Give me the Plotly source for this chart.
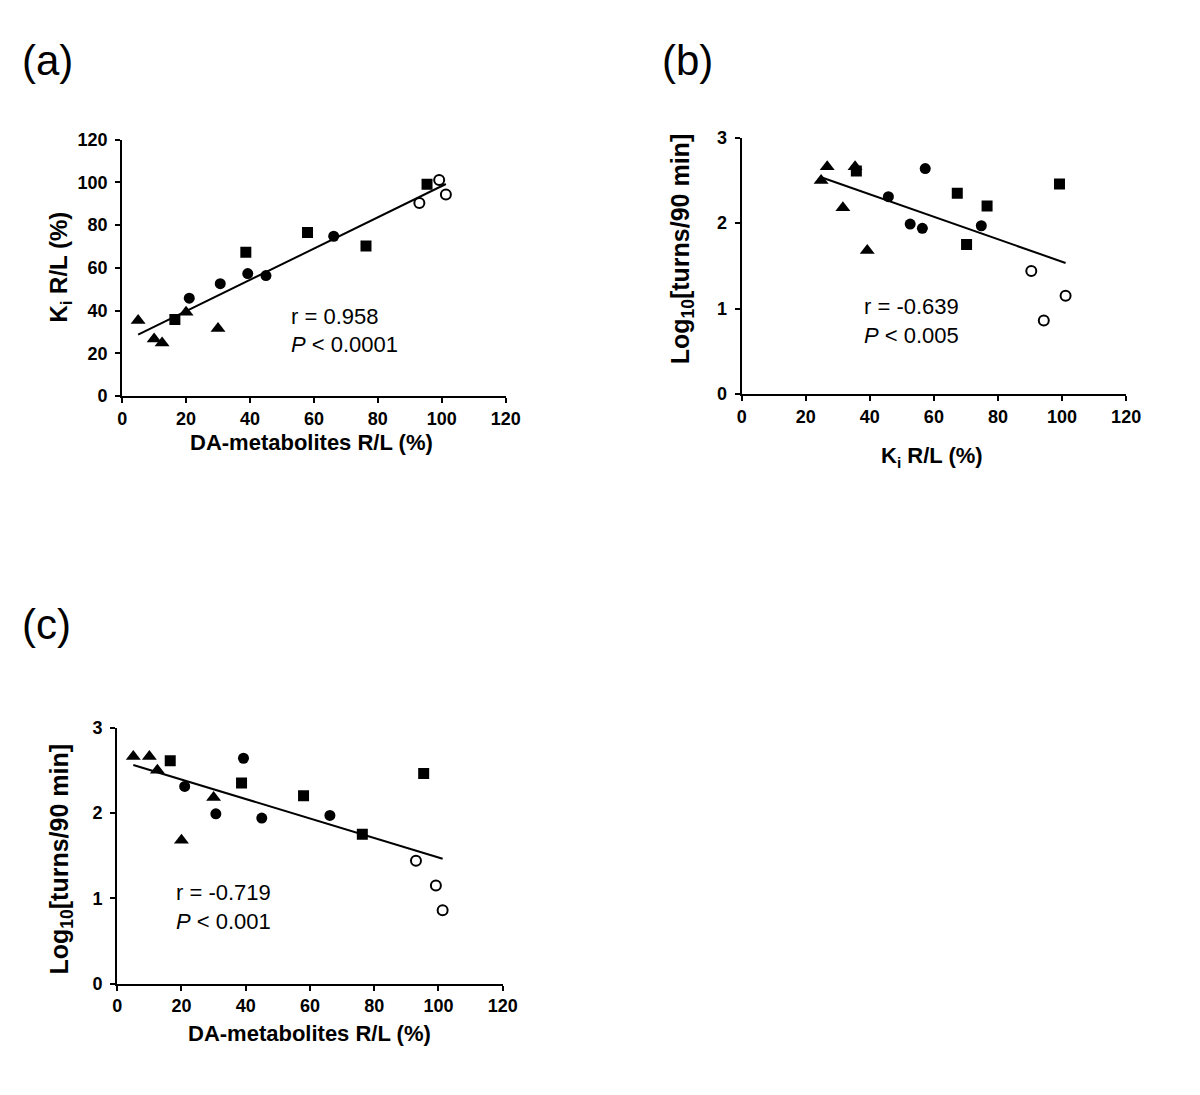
import numpy as np
import plotly.graph_objects as go

# ---- data ----
groups = ["triangle", "square", "circle", "open"]
da_tri = [5.0, 10.0, 12.5, 20.0, 30.0]
da_sq = [16.5, 38.7, 58.0, 76.3, 95.4]
da_ci = [21.0, 30.7, 39.3, 45.0, 66.2]
da_op = [93.0, 99.2, 101.3]

ki_tri = [35.4, 26.7, 24.8, 39.2, 31.6]
ki_sq = [35.8, 67.3, 76.6, 70.2, 99.2]
ki_ci = [45.8, 52.6, 57.3, 56.4, 74.8]
ki_op = [90.4, 101.1, 94.3]

lt_tri = [2.66, 2.66, 2.50, 1.68, 2.18]
lt_sq = [2.61, 2.35, 2.20, 1.75, 2.46]
lt_ci = [2.31, 1.99, 2.64, 1.94, 1.97]
lt_op = [1.44, 1.15, 0.86]

x_ticks_vals = [0, 20, 40, 60, 80, 100, 120]
ki_ticks = [0, 20, 40, 60, 80, 100, 120]
log_ticks = [0, 1, 2, 3]

stats_a = ["r = 0.958", "<i>P</i> < 0.0001"]
stats_b = ["r = -0.639", "<i>P</i> < 0.005"]
stats_c = ["r = -0.719", "<i>P</i> < 0.001"]

W, H = 1200, 1095
OFF = 8  # default page body margin
FONT = "Liberation Sans, Arial, Helvetica, sans-serif"

da_sets = [da_tri, da_sq, da_ci, da_op]
ki_sets = [ki_tri, ki_sq, ki_ci, ki_op]
lt_sets = [lt_tri, lt_sq, lt_ci, lt_op]

sym = {"triangle": "triangle-up", "square": "square", "circle": "circle", "open": "circle-open"}
msize = {"triangle": 13, "square": 11, "circle": 11, "open": 10}

fig = go.Figure()


def add_panel(xs_sets, ys_sets, xa, ya):
    for g, xs, ys in zip(groups, xs_sets, ys_sets):
        fig.add_trace(go.Scatter(
            x=xs, y=ys, mode="markers", xaxis=xa, yaxis=ya, showlegend=False,
            marker=dict(symbol=sym[g], size=msize[g], color="black",
                        line=dict(color="black", width=2 if g == "open" else 0)),
        ))
    allx = np.concatenate([np.array(v, float) for v in xs_sets])
    ally = np.concatenate([np.array(v, float) for v in ys_sets])
    m, b = np.polyfit(allx, ally, 1)
    lx = np.array([allx.min(), allx.max()])
    fig.add_trace(go.Scatter(x=lx, y=m * lx + b, mode="lines", xaxis=xa, yaxis=ya,
                             showlegend=False, line=dict(color="black", width=2)))


add_panel(da_sets, ki_sets, "x", "y")
add_panel(ki_sets, lt_sets, "x2", "y2")
add_panel(da_sets, lt_sets, "x3", "y3")


def px_x(p):
    return (p - OFF) / W


def px_y(p):
    return 1 - (p - OFF) / H


axis_common = dict(showline=True, linecolor="black", linewidth=2, ticks="outside",
                   ticklen=5, tickwidth=2, tickcolor="black", showgrid=False, zeroline=False,
                   tickfont=dict(family=FONT, size=18, color="black", weight="bold"),
                   mirror=False, fixedrange=True)
yaxis_extra = dict(ticklabelstandoff=4)

fig.update_layout(
    width=W, height=H, margin=dict(l=0, r=0, t=0, b=0),
    paper_bgcolor="white", plot_bgcolor="white",
    xaxis=dict(domain=[px_x(119), px_x(509)], range=[0, 120], tickvals=x_ticks_vals,
               anchor="y", **axis_common),
    yaxis=dict(domain=[px_y(393), px_y(132)], range=[0, 120], tickvals=ki_ticks,
               anchor="x", **axis_common, **yaxis_extra),
    xaxis2=dict(domain=[px_x(749), px_x(1140)], range=[0, 120], tickvals=x_ticks_vals,
                anchor="y2", **axis_common),
    yaxis2=dict(domain=[px_y(391), px_y(130)], range=[0, 3], tickvals=log_ticks,
                anchor="x2", **axis_common, **yaxis_extra),
    xaxis3=dict(domain=[px_x(114), px_x(506)], range=[0, 120], tickvals=x_ticks_vals,
                anchor="y3", **axis_common),
    yaxis3=dict(domain=[px_y(991.7), px_y(730.7)], range=[0, 3], tickvals=log_ticks,
                anchor="x3", **axis_common, **yaxis_extra),
)

ann = []


def text(x, y, s, size, bold=False, angle=0, xanchor="center"):
    ann.append(dict(x=px_x(x), y=px_y(y), xref="paper", yref="paper", text=s,
                    showarrow=False, textangle=angle, xanchor=xanchor, yanchor="middle",
                    font=dict(family=FONT, size=size, color="black",
                              weight="bold" if bold else "normal")))


# panel labels
text(43, 51, "(a)", 42)
text(694, 51, "(b)", 42)
text(42, 626, "(c)", 42)

# axis titles
text(312, 440, "DA-metabolites R/L (%)", 22, bold=True)
text(56, 262, "K<sub>i</sub> R/L (%)", 24, bold=True, angle=-90)
text(943, 455, "K<sub>i</sub> R/L (%)", 22, bold=True)
text(688, 243, "Log<sub>10</sub>[turns/90 min]", 25, bold=True, angle=-90)
text(310, 1042, "DA-metabolites R/L (%)", 22, bold=True)
text(57, 865, "Log<sub>10</sub>[turns/90 min]", 25, bold=True, angle=-90)

# statistics
text(289, 312, stats_a[0], 22, xanchor="left")
text(289, 341, stats_a[1], 22, xanchor="left")
text(871, 302, stats_b[0], 22, xanchor="left")
text(871, 331, stats_b[1], 22, xanchor="left")
text(172, 899, stats_c[0], 22, xanchor="left")
text(172, 928, stats_c[1], 22, xanchor="left")

fig.update_layout(annotations=ann)
fig.write_html("out.html")
